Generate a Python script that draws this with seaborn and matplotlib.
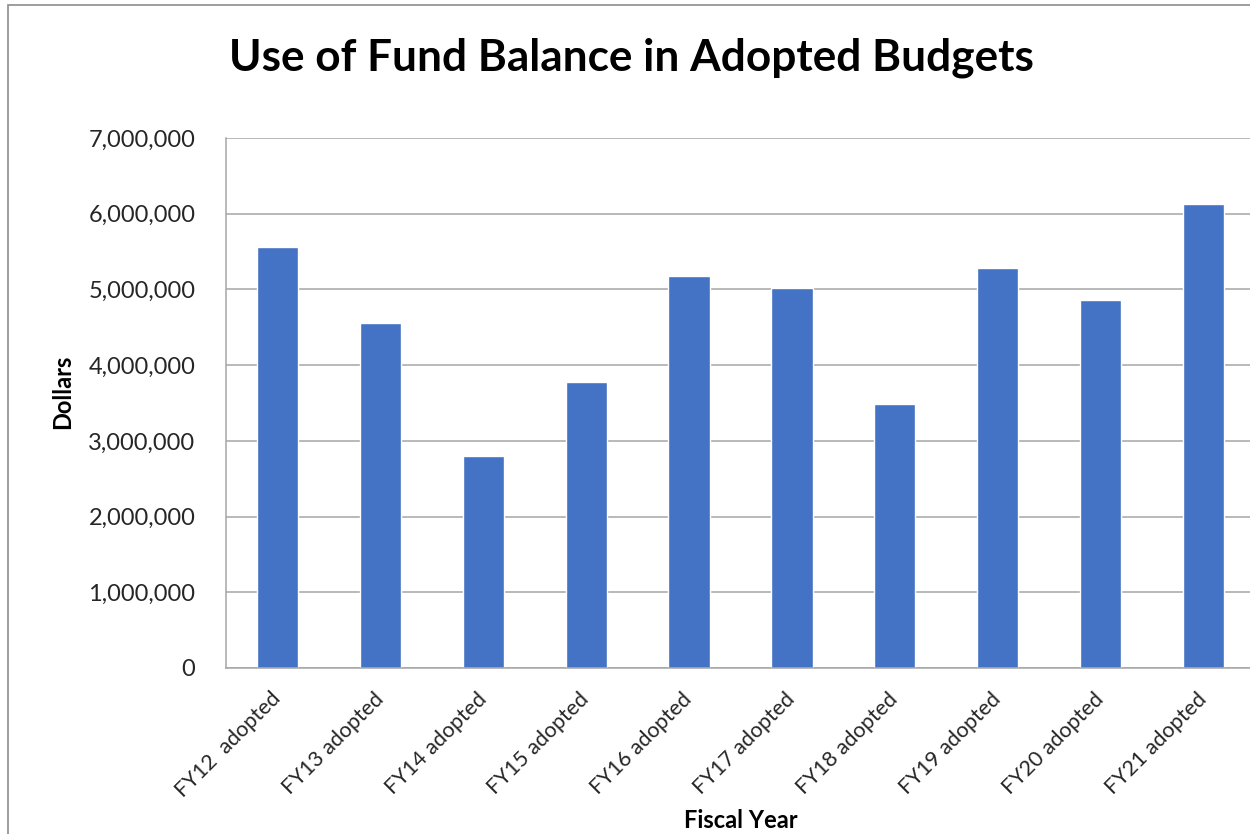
import matplotlib
matplotlib.use("Agg")
import matplotlib.pyplot as plt
import matplotlib.ticker as mticker
from matplotlib.patches import Rectangle
import seaborn as sns
import pandas as pd

categories = ["FY12  adopted", "FY13 adopted", "FY14 adopted", "FY15 adopted", "FY16 adopted",
              "FY17 adopted", "FY18 adopted", "FY19 adopted", "FY20 adopted", "FY21 adopted"]
values = [5560000, 4560000, 2800000, 3780000, 5180000, 5020000, 3490000, 5280000, 4860000, 6130000]

df = pd.DataFrame({"cat": categories, "val": values})

sns.set_theme(style="white")
plt.rcParams['font.family'] = ['Lato', 'DejaVu Sans']

W, H = 1250, 834
fig = plt.figure(figsize=(W / 100, H / 100), dpi=100)
# axes in pixel coords: left 226, right 1255, top 138, bottom 668
ax = fig.add_axes([226 / W, 1 - 668 / H, (1255 - 226) / W, (668 - 138) / H])

sns.barplot(data=df, x="cat", y="val", color="#4472C4", width=0.4, ax=ax, saturation=1)

ax.set_ylim(0, 7000000)
ax.set_xlim(-0.5, 9.5)
ax.yaxis.set_major_locator(mticker.MultipleLocator(1000000))
ax.yaxis.set_major_formatter(mticker.FuncFormatter(lambda v, p: f"{int(v):,}"))
ax.grid(axis="y", color="#A6A6A6", linewidth=1.1)
ax.set_axisbelow(True)

for s in ["top", "right"]:
    ax.spines[s].set_visible(False)
for s in ["left", "bottom"]:
    ax.spines[s].set_color("#A6A6A6")
    ax.spines[s].set_linewidth(1.1)

ax.tick_params(axis="y", length=0, pad=22, labelsize=17, labelcolor="#262626")
ax.tick_params(axis="x", length=0, pad=20, labelsize=15.5, labelcolor="#262626")
for lbl in ax.get_xticklabels():
    lbl.set_rotation(45)
    lbl.set_ha("right")
    lbl.set_va("center")
    lbl.set_rotation_mode("anchor")

ax.set_xlabel("")
ax.set_ylabel("")
fig.text(63 / W, 1 - 392 / H, "Dollars", rotation=90, ha="center", va="center",
         fontsize=17, fontweight="bold", color="#000000")
fig.text(741 / W, 1 - 821 / H, "Fiscal Year", ha="center", va="center",
         fontsize=17, fontweight="bold", color="#000000")
fig.text(631 / W, 1 - 58 / H, "Use of Fund Balance in Adopted Budgets", ha="center", va="center",
         fontsize=31.8, fontweight="bold", color="#000000")

fig.patches.append(Rectangle((8 / W, -0.1), 1.2, 1.1 - 5 / H, transform=fig.transFigure,
                             fill=False, edgecolor="#8C8C8C", linewidth=1.2))

fig.savefig("out.png", dpi=100, facecolor="white")
